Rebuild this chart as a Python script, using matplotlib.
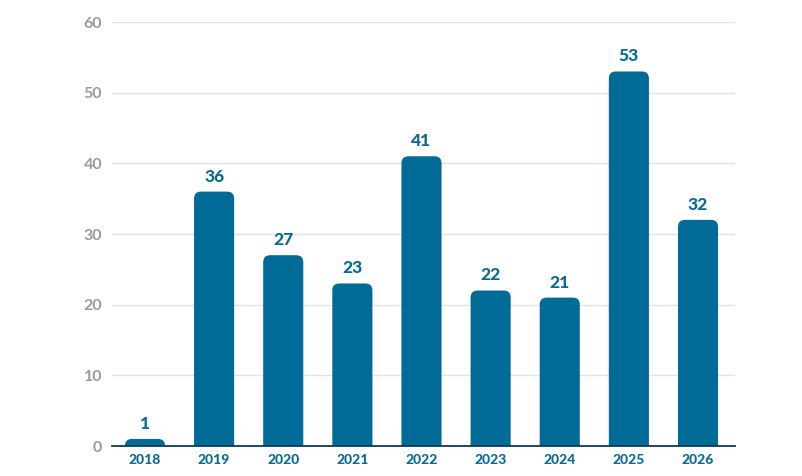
import matplotlib.pyplot as plt
from matplotlib.patches import FancyBboxPatch

years = ['2018', '2019', '2020', '2021', '2022', '2023', '2024', '2025', '2026']
counts = [1, 36, 27, 23, 41, 22, 21, 53, 32]

bar_color = '#006b96'
label_color = '#0a6a94'

fig = plt.figure(figsize=(8.03, 4.76), dpi=100)
ax = fig.add_axes([112 / 803, 1 - 446 / 476, (735 - 112) / 803, (446 - 22) / 476])

x0, x1 = -0.477, 8.535
ax.set_xlim(x0, x1)
ax.set_ylim(0, 60)

# pixel sizes of one data unit, used to keep the corners round
px_x = (735 - 112) / (x1 - x0)
px_y = (446 - 22) / 60
width = 0.58
radius_px = 7

for i, v in enumerate(counts):
    box = FancyBboxPatch((i - width / 2, -3), width, v + 3,
                         boxstyle='round,pad=0,rounding_size=%f' % (radius_px / px_x),
                         mutation_aspect=px_x / px_y,
                         facecolor=bar_color, edgecolor='none', zorder=3)
    ax.add_patch(box)
    ax.text(i, v + 1.0, str(v), ha='center', va='bottom', fontsize=12.5,
            fontweight='black', color=label_color, family='Lato', zorder=4)

ax.set_xticks(range(len(years)))
ax.set_xticklabels(years, fontsize=10, fontweight='black', color=label_color, family='Lato')
ax.set_yticks(range(0, 61, 10))
ax.set_yticklabels([str(t) for t in range(0, 61, 10)], fontsize=11.5, fontweight='bold',
                   color='#9a9a9a', family='Lato')
ax.tick_params(axis='both', length=0)
ax.tick_params(axis='y', pad=7)
ax.tick_params(axis='x', pad=6)

ax.grid(axis='y', color='#e2e2e2', linewidth=1, zorder=0)
ax.set_axisbelow(True)
for s in ['top', 'right', 'left']:
    ax.spines[s].set_visible(False)
ax.spines['bottom'].set_color('#0d3b57')
ax.spines['bottom'].set_linewidth(1.3)
ax.spines['bottom'].set_zorder(5)

plt.savefig('out.png', dpi=100)
